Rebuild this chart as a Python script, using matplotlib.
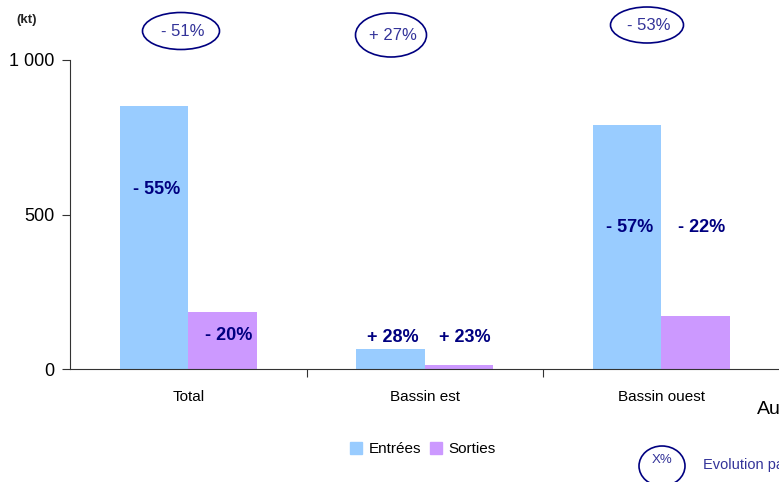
import matplotlib.pyplot as plt
from matplotlib.patches import Ellipse, Patch
import numpy as np

plt.rcParams["font.family"] = ["Liberation Sans", "DejaVu Sans"]

# données (kt)
categories = ["Total", "Bassin est", "Bassin ouest", "Autres"]
entrees = [852, 65, 790, 0]
sorties = [184, 13, 172, 0]
evol_entrees = ["- 55%", "+ 28%", "- 57%"]
evol_sorties = ["- 20%", "+ 23%", "- 22%"]
evol_total = ["- 51%", "+ 27%", "- 53%"]

W, H = 779, 482
fig = plt.figure(figsize=(W / 100, H / 100), dpi=100)
# l'axe déborde à droite (4e catégorie coupée comme dans l'original)
ax = fig.add_axes([70 / W, 113 / H, 946 / W, 309 / H])

x = np.arange(len(categories))
bw = 0.29
c_in, c_out = "#99CCFF", "#CC99FF"
ax.bar(x - bw / 2, entrees, bw, color=c_in, label="Entrées")
ax.bar(x + bw / 2, sorties, bw, color=c_out, label="Sorties")

ax.set_xlim(-0.5, 3.5)
ax.set_ylim(0, 1000)
ax.set_yticks([0, 500, 1000])
ax.set_yticklabels(["0", "500", "1 000"], fontsize=13)
for s in ["top", "right"]:
    ax.spines[s].set_visible(False)
ax.spines["left"].set_color("#333333")
ax.spines["bottom"].set_color("#333333")
ax.tick_params(axis="y", direction="out", length=6, color="#333333", pad=5)
ax.set_xticks(np.arange(0.5, 4, 1))
ax.set_xticklabels([])
ax.tick_params(axis="x", direction="out", length=6, color="#333333")

for i, c in enumerate(categories[:3]):
    ax.text(i, -92, c, ha="center", va="center", fontsize=11)
# libellé de la 4e catégorie, coupé au bord droit comme dans l'original
fig.text(757 / W, 1 - 409 / H, categories[3], ha="left", va="center", fontsize=14)

navy = "#000080"
lab_y_in = [190, 337, 228]
lab_y_out = [336, 337, 228]
fy = lambda py: (369 - py) / 309 * 1000
for i in range(3):
    ax.text(i - bw / 2 + 0.01, fy(lab_y_in[i]), evol_entrees[i], ha="center",
            va="center", fontsize=13, fontweight="bold", color=navy)
    ax.text(i + bw / 2 + 0.025, fy(lab_y_out[i]), evol_sorties[i], ha="center",
            va="center", fontsize=13, fontweight="bold", color=navy)

# ellipses d'évolution totale (coordonnées figure)
ell = [(181, 31, 77, 37), (391, 35, 71, 44), (647, 25, 73, 36)]
for (cx, cy, ew, eh), t in zip(ell, evol_total):
    fig.patches.append(Ellipse((cx / W, 1 - cy / H), ew / W, eh / H,
                               transform=fig.transFigure, fill=False,
                               edgecolor=navy, lw=1.2))
    fig.text(cx / W + 2 / W, 1 - cy / H, t, ha="center", va="center",
             fontsize=12, color="#333399")

fig.text(27 / W, 1 - 20 / H, "(kt)", ha="center", va="center",
         fontsize=9.5, fontweight="bold", color="#222222")

# légende
handles = [Patch(color=c_in, label="Entrées"), Patch(color=c_out, label="Sorties")]
fig.legend(handles=handles, loc="center", bbox_to_anchor=(423 / W, 1 - 449 / H),
           ncol=2, frameon=False, fontsize=11, handlelength=0.8, handleheight=0.8,
           handletextpad=0.4, columnspacing=0.6)

# encart explicatif (coupé à droite)
fig.patches.append(Ellipse((662 / W, 1 - 466 / H), 46 / W, 40 / H,
                           transform=fig.transFigure, fill=False,
                           edgecolor=navy, lw=1.2))
fig.text(662 / W, 1 - 460 / H, "X%", ha="center", va="center",
         fontsize=9.5, color="#333399")
fig.text(703 / W, 1 - 465 / H, "Evolution par rapport à 2010", ha="left",
         va="center", fontsize=10.5, color="#333399")

fig.savefig("out.png", dpi=100)
